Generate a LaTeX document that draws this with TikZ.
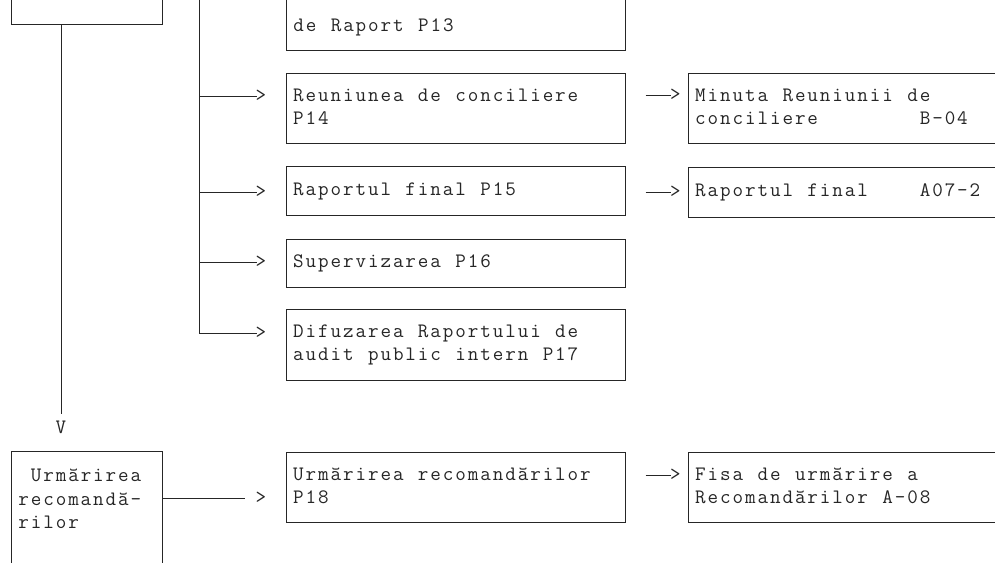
\documentclass[tikz,border=0pt]{standalone}
\usepackage{fontspec}
\newcommand\myfnt{\ttfamily\fontsize{20.5}{23.3}\selectfont}
% fixed-pitch grid: every character sits in a cell of 12.48pt
\def\monoend{\monoendx}
\def\monoloop#1{\ifx#1\monoend\else\makebox[12.48pt][c]{#1}\expandafter\monoloop\fi}
\newcommand\mono[1]{\monoloop#1\monoend}
\definecolor{ln}{gray}{0.15}
\definecolor{ink}{gray}{0.15}
\begin{document}
\begin{tikzpicture}[x=1pt,y=-1pt,
  every node/.style={font=\myfnt, text=ink},
  conn/.style={draw=ln, line width=1pt},
  box/.style={draw=ln, line width=1pt, rectangle, inner xsep=6.2pt, inner ysep=0pt, text width=326.6pt, align=left},
  emptybox/.style={draw=ln, line width=1pt, rectangle, inner sep=0pt},
  lbl/.style={inner sep=0pt},
  tip/.style={inner sep=0pt}]
\useasboundingbox (0,0) rectangle (995,562);
\clip (0,0) rectangle (995,562);
\fill[white] (0,0) rectangle (995,562);

% top partial boxes
\node[emptybox, minimum width=151pt, minimum height=64pt] (tb) at (86.5,-8) {};
\node[emptybox, minimum width=339pt, minimum height=90pt] (p13) at (455.5,5) {};
\node[lbl, anchor=base west] (p13t) at (292.2,31) {\mono{de~Raport~P13}};

% middle column boxes
\node[box, minimum height=70pt] (p14) at (455.5,108) {\strut\mono{Reuniunea~de~conciliere}\\\strut\mono{P14}};
\node[box, minimum height=49pt] (p15) at (455.5,190.5) {\strut\mono{Raportul~final~P15}};
\node[box, minimum height=48pt] (p16) at (455.5,263) {\strut\mono{Supervizarea~P16}};
\node[box, minimum height=71pt] (p17) at (455.5,344.5) {\strut\mono{Difuzarea~Raportului~de}\\\strut\mono{audit~public~intern~P17}};
\node[box, minimum height=70pt] (p18) at (455.5,487) {\strut\mono{Urmărirea~recomandărilor}\\\strut\mono{P18}};

% right column boxes
\node[box, minimum height=70pt] (b04) at (857.5,108) {\strut\mono{Minuta~Reuniunii~de}\\\strut\mono{conciliere~~~~~~~~B-04}};
\node[box, minimum height=50pt] (a07) at (857.5,192) {\strut\mono{Raportul~final~~~~A07-2}};
\node[box, minimum height=70pt] (a08) at (857.5,487) {\strut\mono{Fisa~de~urmărire~a}\\\strut\mono{Recomandărilor~A-08}};

% bottom-left partial box
\node[emptybox, minimum width=151pt, minimum height=168.5pt] (lb) at (86.5,535.75) {};
\node[lbl, anchor=north west, align=left] (lbt) at (17.2,465.4) {\strut\mono{~Urmărirea}\\\strut\mono{recomandă-}\\\strut\mono{rilor}};

% arrow heads
\node[lbl, anchor=base] (vh) at (61,433) {V};
\node[tip] (t14) at (261,96) {>};
\node[tip] (t15) at (261,192) {>};
\node[tip] (t16) at (261,262) {>};
\node[tip] (t17) at (261,333) {>};
\node[tip] (t18) at (261,498) {>};
\node[tip] (r04) at (675.5,95) {>};
\node[tip] (r07) at (675.5,192) {>};
\node[tip] (r08) at (675.5,475) {>};
\coordinate (v2top) at (199,-5);

% connectors
\draw[conn] (tb.south -| vh) -- ([yshift=6pt]vh.north);
\draw[conn] (v2top) |- ([xshift=1pt]t17.west);
\draw[conn] (v2top |- t14) -- ([xshift=1pt]t14.west);
\draw[conn] (v2top |- t15) -- ([xshift=1pt]t15.west);
\draw[conn] (v2top |- t16) -- ([xshift=1pt]t16.west);
\draw[conn] (lb.east |- t18) -- ([xshift=-11pt]t18.west);
\draw[conn] ([xshift=20pt]p14.east |- r04) -- ([xshift=1pt]r04.west);
\draw[conn] ([xshift=20pt]p15.east |- r07) -- ([xshift=1pt]r07.west);
\draw[conn] ([xshift=20pt]p18.east |- r08) -- ([xshift=1pt]r08.west);
\end{tikzpicture}
\end{document}
